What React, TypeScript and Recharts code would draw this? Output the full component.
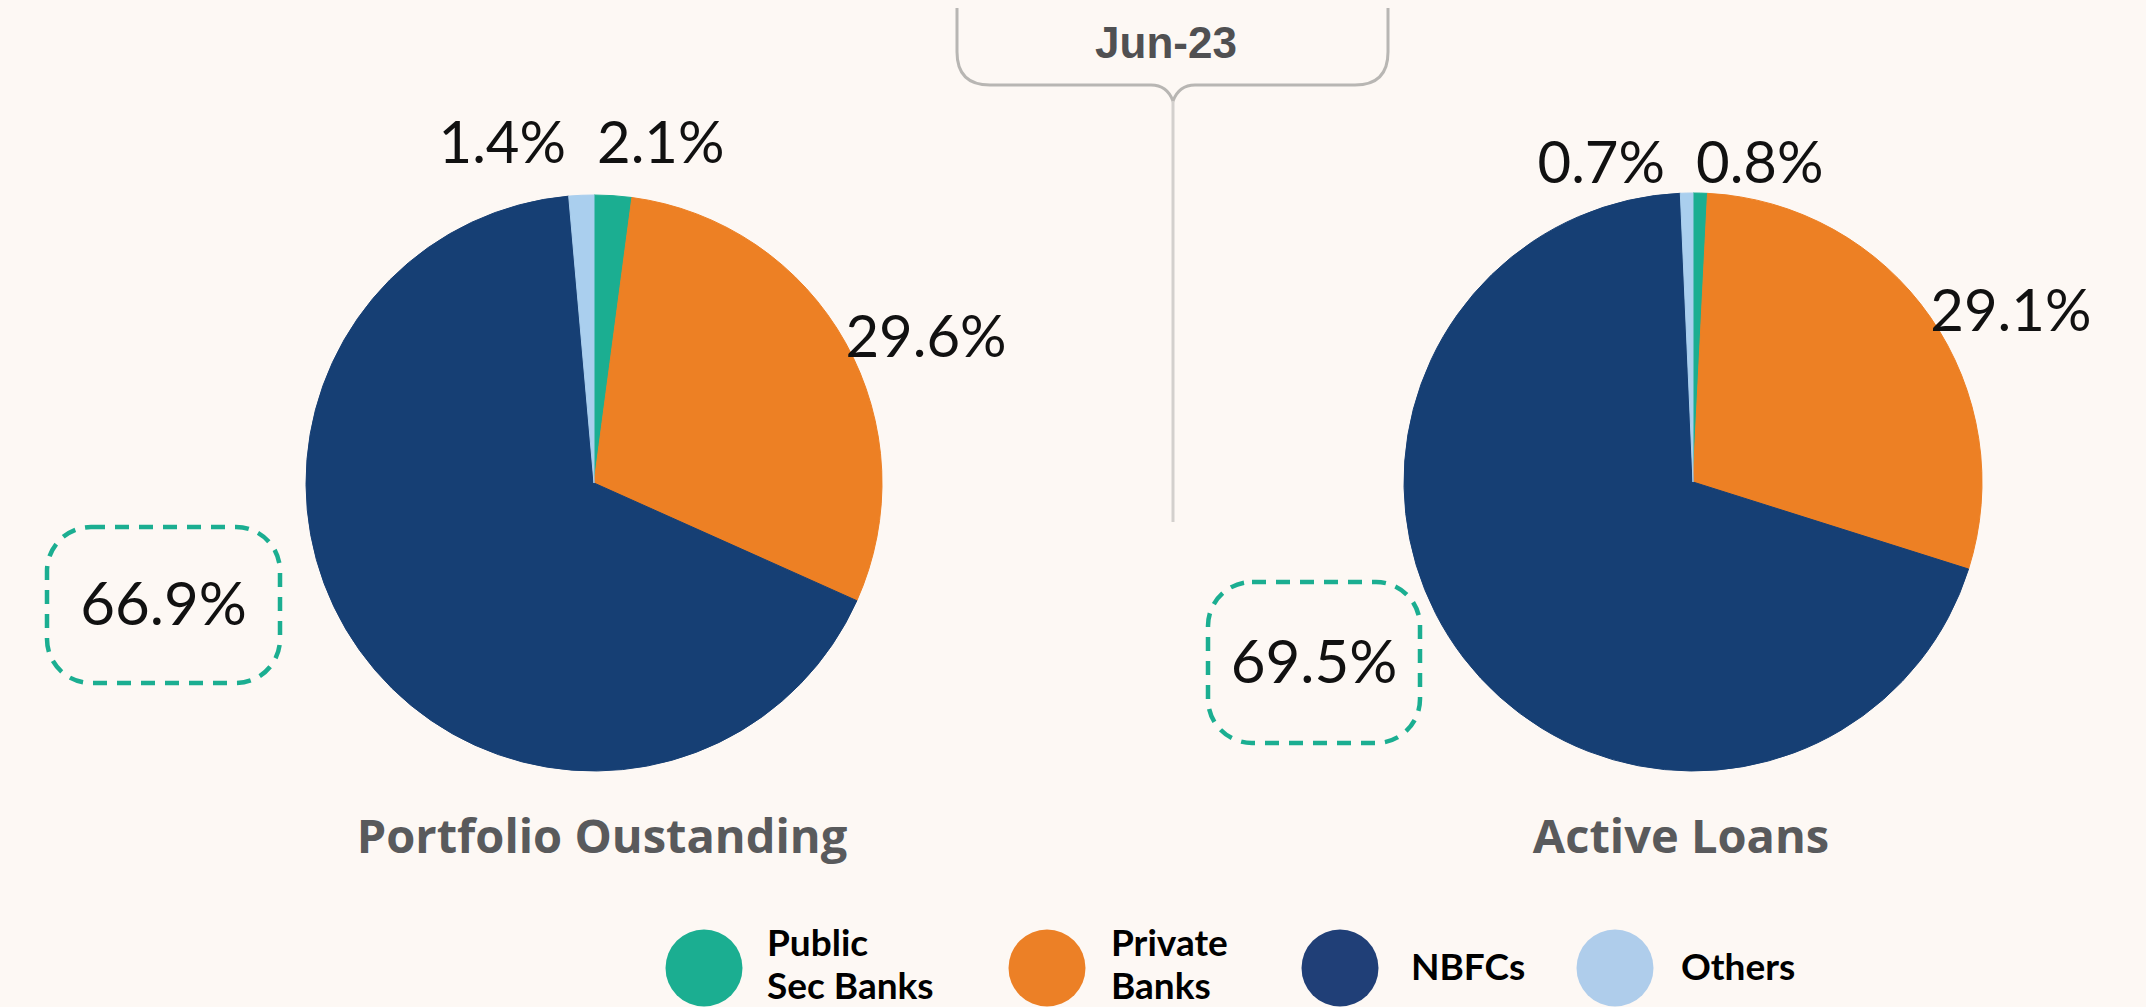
import { Cell, Pie, PieChart } from 'recharts';

// Source values (percent share by lender type, Jun-23)
const categories = ['Public Sec Banks', 'Private Banks', 'NBFCs', 'Others'];
const legendLines = [['Public', 'Sec Banks'], ['Private', 'Banks'], ['NBFCs'], ['Others']];
const portfolioValues = [2.1, 29.6, 66.9, 1.4];
const activeLoanValues = [0.8, 29.1, 69.5, 0.7];
const pieTitles = ['Portfolio Oustanding', 'Active Loans'];
const periodLabel = 'Jun-23';

const sliceColors = ['#1bae91', '#ed8024', '#163f74', '#aacfee'];
const legendColors = ['#1bae91', '#ec8026', '#203f77', '#afcdeb'];

const W = 2146;
const H = 1007;
const BG = '#fdf8f4';
const GREEN = '#1bae91';
const labelFont = 'Lato, "Open Sans", sans-serif';

interface PieLayout {
  cx: number;
  cy: number;
  r: number;
  /** gap between pie top and the baseline of the tiny-slice labels */
  topGap: number;
  /** dashed callout box for the dominant slice, offset from the pie centre */
  callout: { dx: number; dy: number; w: number; h: number };
  titleX: number;
}

const layouts: PieLayout[] = [
  { cx: 594, cy: 483, r: 288, topGap: 32, callout: { dx: -547, dy: 44, w: 233, h: 156 }, titleX: 602 },
  { cx: 1693, cy: 482, r: 289, topGap: 10, callout: { dx: -485, dy: 100, w: 212, h: 161 }, titleX: 1681 },
];

const legendCircleX = [704, 1047, 1340, 1615];
const legendTextX = [767, 1111, 1411, 1681];

const RAD = Math.PI / 180;
const fmt = (v: number) => `${v.toFixed(1)}%`;

function makeLabel(layout: PieLayout, values: number[]) {
  const maxVal = Math.max(...values);
  return (props: any) => {
    const { cx, cy, midAngle, outerRadius, value, index } = props;
    const key = `lbl-${index}`;
    if (value < 5) {
      // tiny slices near 12 o'clock: stack their labels either side of the top
      const left = Math.cos(midAngle * RAD) < 0;
      return (
        <text
          key={key}
          x={left ? cx - 28 : cx + 3}
          y={cy - outerRadius - layout.topGap}
          textAnchor={left ? 'end' : 'start'}
          fontFamily={labelFont}
          fontSize={58}
          fill="#111"
        >
          {fmt(value)}
        </text>
      );
    }
    if (value === maxVal) {
      const { dx, dy, w, h } = layout.callout;
      const x = cx + dx;
      const y = cy + dy;
      return (
        <g key={key}>
          <rect
            x={x}
            y={y}
            width={w}
            height={h}
            rx={44}
            fill="none"
            stroke={GREEN}
            strokeWidth={4.5}
            strokeDasharray="14 10"
          />
          <text
            x={x + w / 2}
            y={y + h / 2 + 20}
            textAnchor="middle"
            fontFamily="Lato, sans-serif"
            fontSize={60}
            fill="#111"
          >
            {fmt(value)}
          </text>
        </g>
      );
    }
    const x = cx + outerRadius * Math.cos(-midAngle * RAD);
    const y = cy + outerRadius * Math.sin(-midAngle * RAD);
    return (
      <text key={key} x={x} y={y + 14} textAnchor="start" fontFamily={labelFont} fontSize={58} fill="#111">
        {fmt(value)}
      </text>
    );
  };
}

const seriesValues = [portfolioValues, activeLoanValues];

export default function App() {
  const bx0 = 957;
  const bx1 = 1388;
  const by = 85;
  const mid = 1173;
  return (
    <div style={{ position: 'absolute', left: 0, top: 0, width: W, height: H, background: BG }}>
      <PieChart width={W} height={H} margin={{ top: 0, right: 0, bottom: 0, left: 0 }}>
        {seriesValues.map((vals, p) => {
          const L = layouts[p];
          const data = categories.map((name, i) => ({ name, value: vals[i] }));
          return (
            <Pie
              key={pieTitles[p]}
              data={data}
              dataKey="value"
              nameKey="name"
              cx={L.cx}
              cy={L.cy}
              outerRadius={L.r}
              startAngle={90}
              endAngle={-270}
              labelLine={false}
              label={makeLabel(L, vals)}
              isAnimationActive={false}
            >
              {data.map((d, i) => (
                <Cell key={d.name} fill={sliceColors[i]} stroke={sliceColors[i]} strokeWidth={1} />
              ))}
            </Pie>
          );
        })}

        {/* period bracket */}
        <g fill="none" stroke="#b8b6b3" strokeWidth={3}>
          <path
            d={`M ${bx0} 8 V ${by - 33} Q ${bx0} ${by} ${bx0 + 33} ${by} H ${mid - 22} Q ${mid - 6} ${by} ${mid} ${by + 16} Q ${mid + 6} ${by} ${mid + 22} ${by} H ${bx1 - 33} Q ${bx1} ${by} ${bx1} ${by - 33} V 8`}
          />
          <path d={`M ${mid} ${by + 16} V 522`} stroke="#d3d0cd" />
        </g>
        <text x={1166} y={58} textAnchor="middle" fontFamily="'Liberation Sans', Arial, sans-serif" fontWeight={700} fontSize={44} fill="#505052">
          {periodLabel}
        </text>

        {pieTitles.map((t, p) => (
          <text
            key={t}
            x={layouts[p].titleX}
            y={853}
            textAnchor="middle"
            fontFamily="'Open Sans', sans-serif"
            fontWeight={700}
            fontSize={47}
            fill="#595a5c"
          >
            {t}
          </text>
        ))}

        {/* legend */}
        {categories.map((c, i) => {
          const lines = legendLines[i];
          return (
            <g key={c}>
              <circle cx={legendCircleX[i]} cy={968} r={38.5} fill={legendColors[i]} />
              {lines.map((ln, j) => (
                <text
                  key={ln}
                  x={legendTextX[i]}
                  y={lines.length === 1 ? 980 : 956 + j * 43}
                  fontFamily={labelFont}
                  fontWeight={700}
                  fontSize={37}
                  fill="#000"
                >
                  {ln}
                </text>
              ))}
            </g>
          );
        })}
      </PieChart>
    </div>
  );
}
